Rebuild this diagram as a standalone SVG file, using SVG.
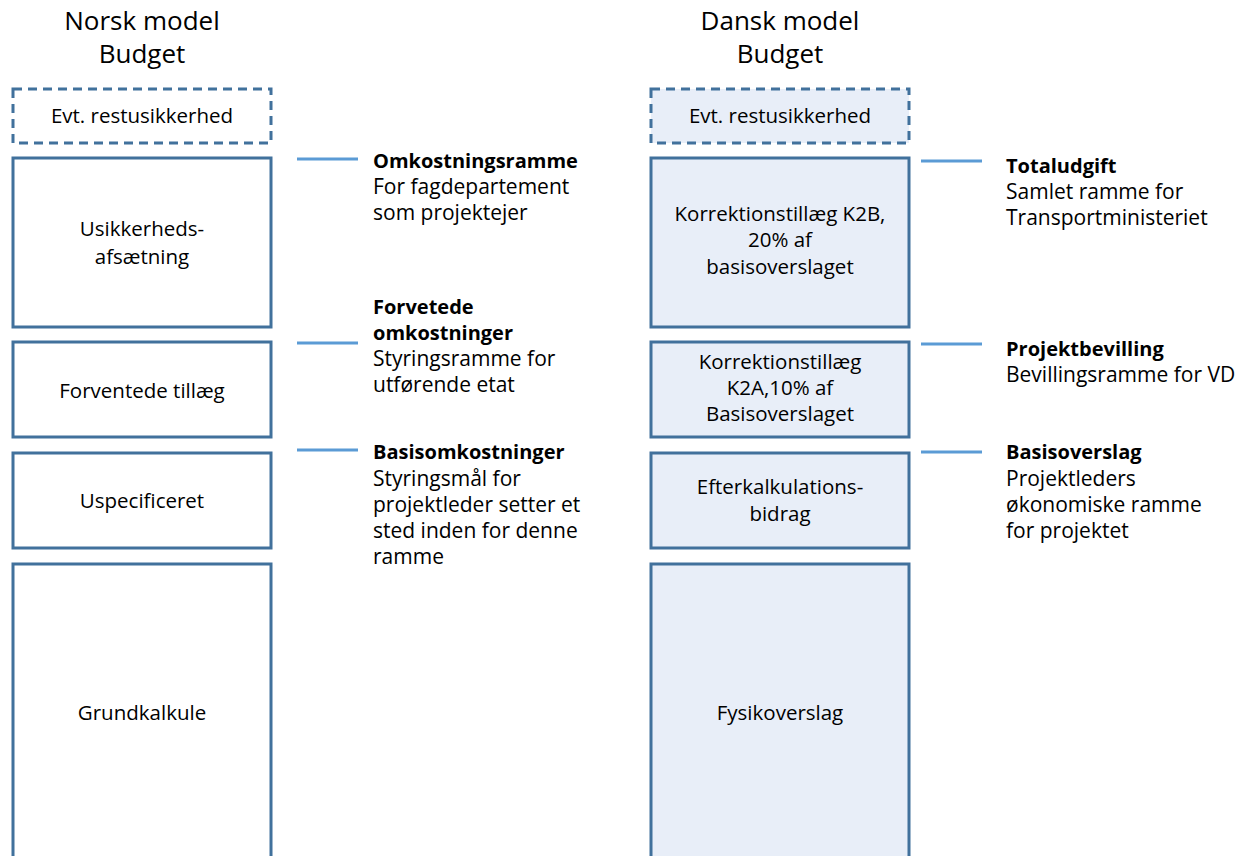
<svg xmlns="http://www.w3.org/2000/svg" width="1240" height="856" viewBox="0 0 1240 856">
<style>
text{font-family:"Open Sans","Noto Sans","DejaVu Sans",sans-serif;fill:#000}
.t{font-size:26px;text-anchor:middle}
.b{font-size:20.5px;text-anchor:middle}
.l{font-size:21px}
.h{font-weight:bold;font-size:20px}
.box{fill:#fff;stroke:#41719C;stroke-width:3}
.dbox{fill:#fff;stroke:#41719C;stroke-width:3;stroke-dasharray:9,6}
.r .box,.r .dbox{fill:#E8EEF8}
.c line{stroke:#5B9BD5;stroke-width:3}
</style>
<rect width="1240" height="856" fill="#fff"/>
<g id="title-left"><text class="t" x="142" y="30">Norsk model</text><text class="t" x="142" y="63">Budget</text></g>
<g id="title-right"><text class="t" x="780" y="30">Dansk model</text><text class="t" x="780" y="63">Budget</text></g>
<g class="l-col">
<g id="n-evt-l"><rect class="dbox" x="13" y="89" width="258" height="54"/><text class="b" x="142" y="123">Evt. restusikkerhed</text></g>
<g id="n-usik"><rect class="box" x="13" y="158" width="258" height="169"/><text class="b" x="142" y="236">Usikkerheds-</text><text class="b" x="142" y="264">afsætning</text></g>
<g id="n-forv"><rect class="box" x="13" y="342" width="258" height="95"/><text class="b" x="142" y="398">Forventede tillæg</text></g>
<g id="n-uspec"><rect class="box" x="13" y="453" width="258" height="95"/><text class="b" x="142" y="508">Uspecificeret</text></g>
<g id="n-grund"><rect class="box" x="13" y="564" width="258" height="310"/><text class="b" x="142" y="720">Grundkalkule</text></g>
</g>
<g class="r">
<g id="n-evt-r"><rect class="dbox" x="651" y="89" width="258" height="54"/><text class="b" x="780" y="123">Evt. restusikkerhed</text></g>
<g id="n-k2b"><rect class="box" x="651" y="158" width="258" height="169"/><text class="b" x="780" y="221">Korrektionstillæg K2B,</text><text class="b" x="780" y="247">20% af</text><text class="b" x="780" y="274">basisoverslaget</text></g>
<g id="n-k2a"><rect class="box" x="651" y="342" width="258" height="95"/><text class="b" x="780" y="369">Korrektionstillæg</text><text class="b" x="780" y="395">K2A,10% af</text><text class="b" x="780" y="421">Basisoverslaget</text></g>
<g id="n-efter"><rect class="box" x="651" y="453" width="258" height="95"/><text class="b" x="780" y="494">Efterkalkulations-</text><text class="b" x="780" y="521">bidrag</text></g>
<g id="n-fysik"><rect class="box" x="651" y="564" width="258" height="310"/><text class="b" x="780" y="720">Fysikoverslag</text></g>
</g>
<g class="c" id="connectors">
<line x1="297" y1="159" x2="358" y2="159"/>
<line x1="297" y1="343" x2="358" y2="343"/>
<line x1="297" y1="450" x2="358" y2="450"/>
<line x1="921" y1="161" x2="982" y2="161"/>
<line x1="921" y1="344" x2="982" y2="344"/>
<line x1="921" y1="452" x2="982" y2="452"/>
</g>
<g id="lbl-omk"><text class="l h" x="373" y="168">Omkostningsramme</text><text class="l" x="373" y="194">For fagdepartement</text><text class="l" x="373" y="220">som projektejer</text></g>
<g id="lbl-forv"><text class="l h" x="373" y="314">Forvetede</text><text class="l h" x="373" y="340">omkostninger</text><text class="l" x="373" y="366">Styringsramme for</text><text class="l" x="373" y="392">utførende etat</text></g>
<g id="lbl-basis"><text class="l h" x="373" y="459">Basisomkostninger</text><text class="l" x="373" y="486">Styringsmål for</text><text class="l" x="373" y="512">projektleder setter et</text><text class="l" x="373" y="538">sted inden for denne</text><text class="l" x="373" y="564">ramme</text></g>
<g id="lbl-total"><text class="l h" x="1006" y="173">Totaludgift</text><text class="l" x="1006" y="199">Samlet ramme for</text><text class="l" x="1006" y="225">Transportministeriet</text></g>
<g id="lbl-proj"><text class="l h" x="1006" y="356">Projektbevilling</text><text class="l" x="1006" y="382">Bevillingsramme for VD</text></g>
<g id="lbl-basov"><text class="l h" x="1006" y="459">Basisoverslag</text><text class="l" x="1006" y="486">Projektleders</text><text class="l" x="1006" y="512">økonomiske ramme</text><text class="l" x="1006" y="538">for projektet</text></g>
</svg>
